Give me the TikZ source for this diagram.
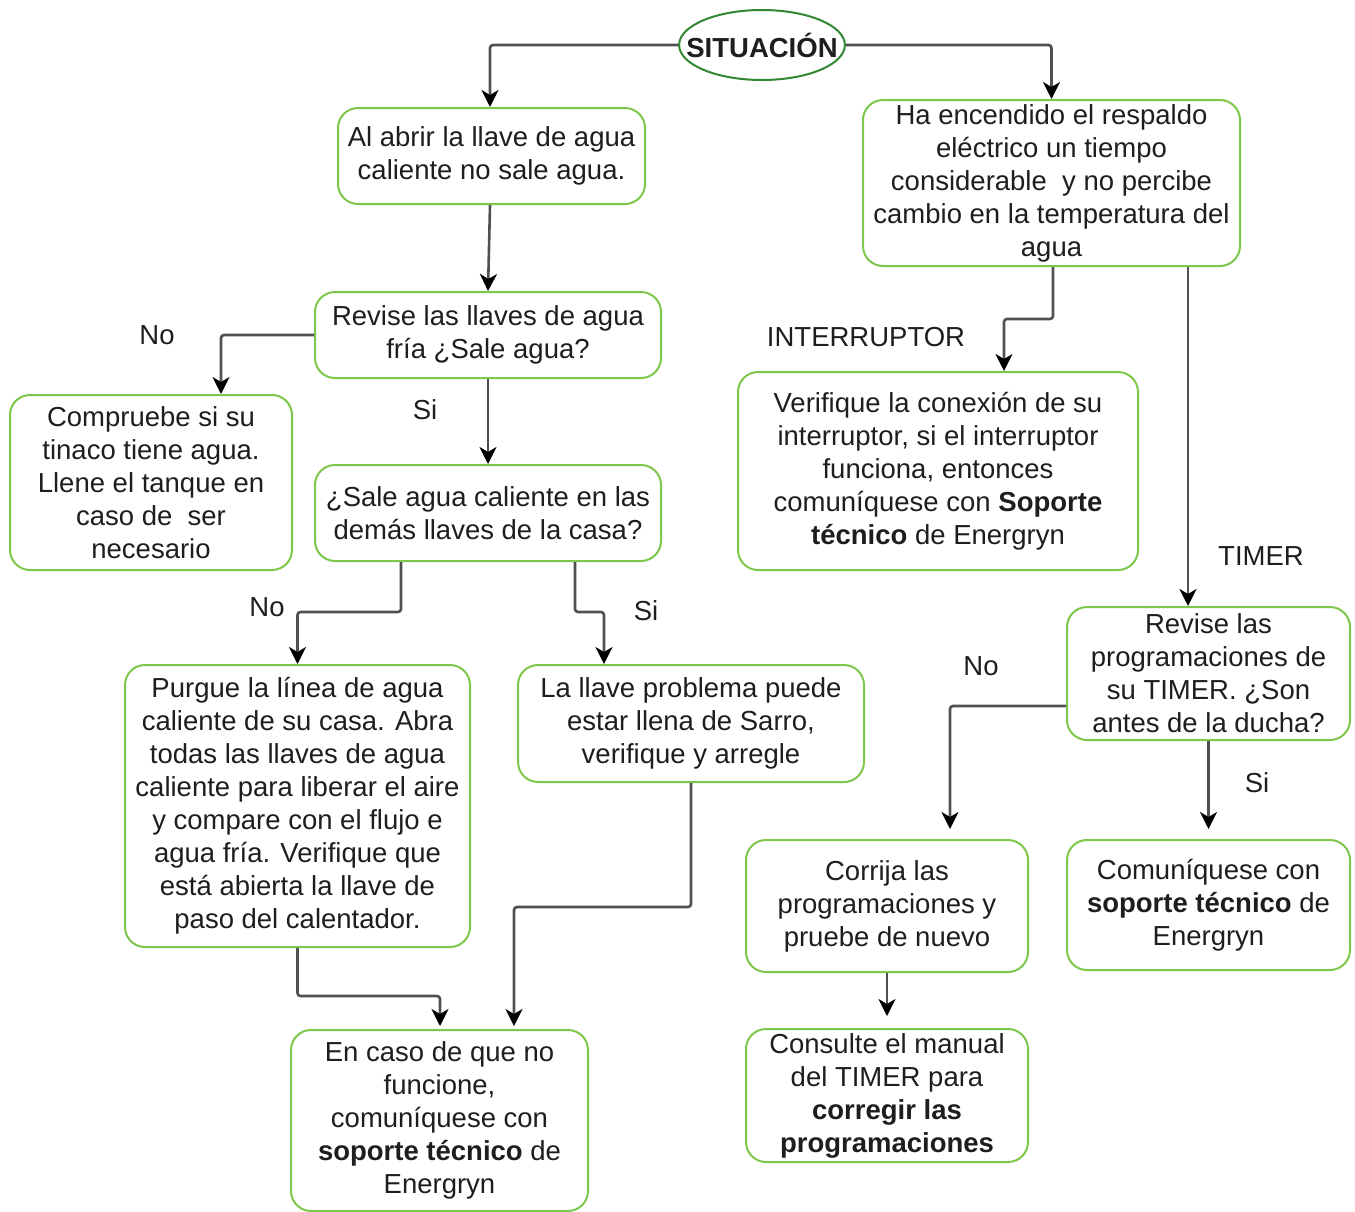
\documentclass[tikz,border=0pt]{standalone}
\usepackage{fontspec}
\setmainfont{Liberation Sans}
\usetikzlibrary{arrows.meta,shapes.geometric}
\definecolor{boxgreen}{RGB}{125,200,75}
\definecolor{ellgreen}{RGB}{50,135,50}
\definecolor{txt}{RGB}{30,30,30}
\definecolor{linec}{RGB}{80,80,80}
\tikzset{
  box/.style={draw=boxgreen, line width=2pt, rounded corners=20pt, fill=white,
    align=center, inner sep=0pt, text=txt, font=\fontsize{27.5}{33}\selectfont},
  ell/.style={draw=ellgreen, line width=2pt, ellipse, fill=white, inner xsep=-17pt, inner ysep=0pt,
    text=txt, font=\fontsize{27.5}{33}\selectfont\bfseries},
  lbl/.style={text=txt, inner sep=0pt, font=\fontsize{27.5}{33}\selectfont},
  arr/.style={draw=linec, line width=2.6pt, rounded corners=3pt,
    -{Stealth[length=17pt,width=17pt,inset=5pt,black]}},
}
\begin{document}
\begin{tikzpicture}[x=1pt,y=-1pt]
\useasboundingbox[fill=white] (0,0) rectangle (1355,1211);

\node[ell, minimum width=165pt, minimum height=70pt] (S) at (762,45) {SITUACIÓN};

\node[box, minimum width=307pt, minimum height=96pt] (A) at (491.5,156)
  {Al abrir la llave de agua\\caliente no sale agua.};
\node[box, minimum width=377pt, minimum height=166pt] (B) at (1051.5,183)
  {Ha encendido el respaldo\\eléctrico un tiempo\\considerable\ \ y no percibe\\cambio en la temperatura del\\agua};
\node[box, minimum width=346pt, minimum height=86pt] (C) at (488,335)
  {Revise las llaves de agua\\fría ¿Sale agua?};
\node[box, minimum width=282pt, minimum height=175pt] (D) at (151,482.5)
  {Compruebe si su\\tinaco tiene agua.\\Llene el tanque en\\caso de\ \ ser\\necesario};
\node[box, minimum width=346pt, minimum height=96pt] (E) at (488,513)
  {¿Sale agua caliente en las\\demás llaves de la casa?};
\node[box, minimum width=400pt, minimum height=198pt] (F) at (938,471)
  {Verifique la conexión de su\\interruptor, si el interruptor\\funciona, entonces\\comuníquese con \textbf{Soporte}\\\textbf{técnico} de Energryn};
\node[box, minimum width=345pt, minimum height=282pt] (G) at (297.5,806)
  {Purgue la línea de agua\\caliente de su casa. Abra\\todas las llaves de agua\\caliente para liberar el aire\\y compare con el flujo e\\agua fría. Verifique que\\está abierta la llave de\\paso del calentador.};
\node[box, minimum width=346pt, minimum height=117pt] (H) at (691,723.5)
  {La llave problema puede\\estar llena de Sarro,\\verifique y arregle};
\node[box, minimum width=283pt, minimum height=133pt] (I) at (1208.5,673.5)
  {Revise las\\programaciones de\\su TIMER. ¿Son\\antes de la ducha?};
\node[box, minimum width=282pt, minimum height=132pt] (J) at (887,906)
  {Corrija las\\programaciones y\\pruebe de nuevo};
\node[box, minimum width=283pt, minimum height=130pt] (K) at (1208.5,905)
  {Comuníquese con\\\textbf{soporte técnico} de\\Energryn};
\node[box, minimum width=282pt, minimum height=133pt] (L) at (887,1095.5)
  {Consulte el manual\\del TIMER para\\\textbf{corregir las}\\\textbf{programaciones}};
\node[box, minimum width=297pt, minimum height=181pt] (M) at (439.5,1120.5)
  {En caso de que no\\funcione,\\comuníquese con\\\textbf{soporte técnico} de\\Energryn};

% labels
\node[lbl] (l1) at (157,335) {No};
\node[lbl] (l2) at (425,410) {Si};
\node[lbl] (l3) at (267,607) {No};
\node[lbl] (l4) at (646,611) {Si};
\node[lbl] (l5) at (866,337) {INTERRUPTOR};
\node[lbl] (l6) at (1261,556) {TIMER};
\node[lbl] (l7) at (981,666) {No};
\node[lbl] (l8) at (1257,783) {Si};

% connectors
\draw[arr] (S.west) -| ([xshift=-1.5pt]A.north);
\draw[arr] (S.east) -| (B.north);
\draw[arr] ([xshift=-1.5pt]A.south) -- (C.north);
\draw[arr] (C.west) -| ([xshift=70pt]D.north);
\draw[arr] (C.south) -- (E.north);
\draw[arr] ([xshift=-87pt]E.south) -- ++(0,50) -| (G.north);
\draw[arr] ([xshift=87pt]E.south) -- ++(0,50) -| ([xshift=-87pt]H.north);
\draw[arr] ([xshift=1.5pt]B.south) -- ++(0,52) -| ([xshift=66pt]F.north);
\draw[arr] ([xshift=136.5pt]B.south) -- ([xshift=-20.5pt]I.north);
\draw[arr, shorten >=10pt] ([yshift=-32.5pt]I.west) -| ([xshift=63pt]J.north);
\draw[arr, shorten >=10pt] (I.south) -- (K.north);
\draw[arr, shorten >=12pt] (J.south) -- (L.north);
\draw[arr, shorten >=3pt] (G.south) -- ++(0,48) -| ([xshift=0.5pt]M.north);
\draw[arr, shorten >=3pt] (H.south) -- ++(0,124) -| ([xshift=74.5pt]M.north);
\end{tikzpicture}
\end{document}
